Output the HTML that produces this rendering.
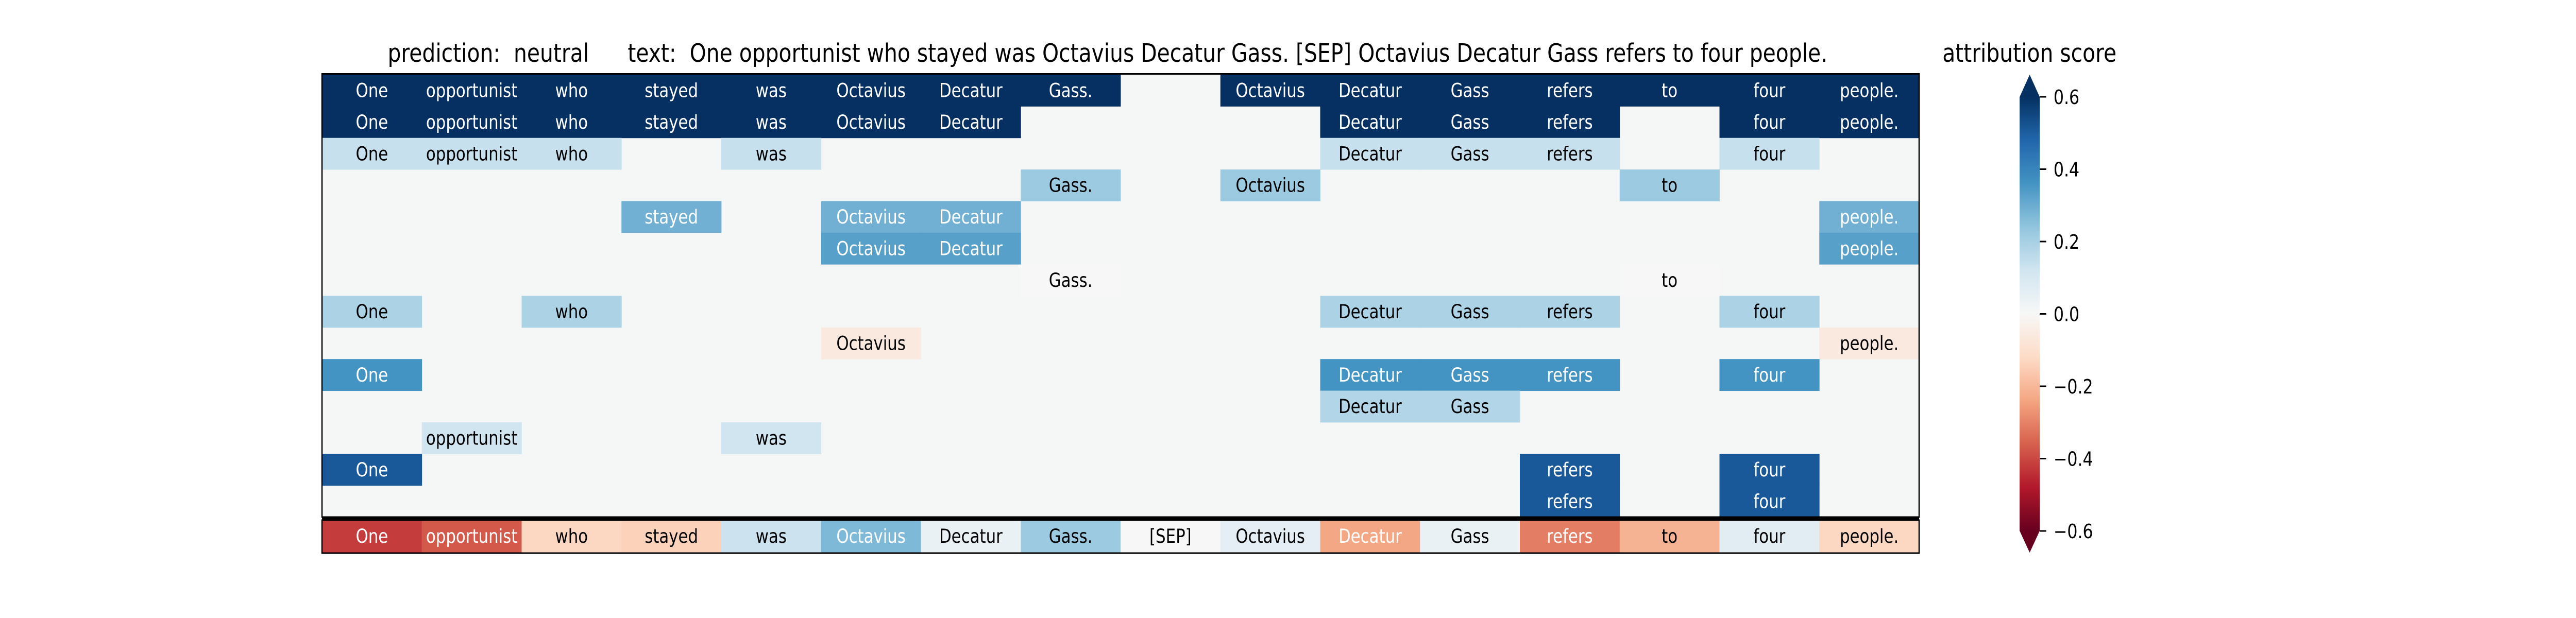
<!DOCTYPE html>
<html><head><meta charset="utf-8">
<style>
html,body{margin:0;padding:0;background:#fff;width:100%;height:100%;overflow:hidden;}
svg{display:block;width:100vw;height:100vh;font-family:"DejaVu Sans","Liberation Sans",sans-serif;}
</style></head>
<body>
<svg id="chart" viewBox="0 0 6000 1200" preserveAspectRatio="none" xmlns="http://www.w3.org/2000/svg">
<rect x="0" y="0" width="6000" height="1200" fill="#fff"/>
<text x="903" y="120" font-size="49" xml:space="preserve">prediction:  neutral</text>
<text x="1462" y="120" font-size="49" xml:space="preserve">text:  One opportunist who stayed was Octavius Decatur Gass. [SEP] Octavius Decatur Gass refers to four people.</text>
<text x="4727" y="120" font-size="49" text-anchor="middle">attribution score</text>
<g id="cells"></g>
<g id="cbar"></g>
</svg>
<script>
const tokens = ["One","opportunist","who","stayed","was","Octavius","Decatur","Gass.","[SEP]","Octavius","Decatur","Gass","refers","to","four","people."];
const N = null;
const row1  = [0.65,0.65,0.65,0.65,0.65,0.65,0.65,0.65,N,0.65,0.65,0.65,0.65,0.65,0.65,0.65];
const row2  = [0.65,0.65,0.65,0.65,0.65,0.65,0.65,N,N,N,0.65,0.65,0.65,N,0.65,0.65];
const row3  = [0.14,0.14,0.14,N,0.14,N,N,N,N,N,0.14,0.14,0.14,N,0.14,N];
const row4  = [N,N,N,N,N,N,N,0.22,N,0.22,N,N,N,0.22,N,N];
const row5  = [N,N,N,0.29,N,0.29,0.29,N,N,N,N,N,N,N,N,0.29];
const row6  = [N,N,N,N,N,0.33,0.33,N,N,N,N,N,N,N,N,0.33];
const row7  = [N,N,N,N,N,N,N,0.0,N,N,N,N,N,0.0,N,N];
const row8  = [0.19,N,0.19,N,N,N,N,N,N,N,0.19,0.19,0.19,N,0.19,N];
const row9  = [N,N,N,N,N,-0.06,N,N,N,N,N,N,N,N,N,-0.06];
const row10 = [0.36,N,N,N,N,N,N,N,N,N,0.36,0.36,0.36,N,0.36,N];
const row11 = [N,N,N,N,N,N,N,N,N,N,0.18,0.18,N,N,N,N];
const row12 = [N,0.12,N,N,0.12,N,N,N,N,N,N,N,N,N,N,N];
const row13 = [0.51,N,N,N,N,N,N,N,N,N,N,N,0.51,N,0.51,N];
const row14 = [N,N,N,N,N,N,N,N,N,N,N,N,0.51,N,0.51,N];
const totalRow = [-0.42,-0.37,-0.13,-0.14,0.13,0.27,0.04,0.22,0.0,0.06,-0.235,0.04,-0.31,-0.21,0.07,-0.13];
const cbTicks = [0.6,0.4,0.2,0.0,-0.2,-0.4,-0.6];
const cbTickLabels = ["0.6","0.4","0.2","0.0","\u22120.2","\u22120.4","\u22120.6"];

const rows = [row1,row2,row3,row4,row5,row6,row7,row8,row9,row10,row11,row12,row13,row14];
const VMIN=-0.6, VMAX=0.6;
const stops=["#67001f","#b2182b","#d6604d","#f4a582","#fddbc7","#f7f7f7","#d1e5f0","#92c5de","#4393c3","#2166ac","#053061"];
function hex(h){return [parseInt(h.substr(1,2),16),parseInt(h.substr(3,2),16),parseInt(h.substr(5,2),16)];}
function cmap(v){
  let t=(v-VMIN)/(VMAX-VMIN); t=Math.max(0,Math.min(1,t));
  const p=t*10, i=Math.min(9,Math.floor(p)), f=p-i;
  const a=hex(stops[i]), b=hex(stops[i+1]);
  return "rgb("+a.map((c,k)=>Math.round(c+(b[k]-c)*f)).join(",")+")";
}
const X0=750, X1=4470, TOP=145, ROWS_BOTTOM=1004, TR_TOP=1010, TR_BOTTOM=1072;
const cw=(X1-X0)/tokens.length, rh=(ROWS_BOTTOM-TOP)/rows.length;
function xPos(i){return X0+i*cw;}
function yPos(r){return TOP+r*rh;}
const NS="http://www.w3.org/2000/svg";
const g=document.getElementById("cells");
function mk(tag,attrs,parent){const e=document.createElementNS(NS,tag);for(const k in attrs)e.setAttribute(k,attrs[k]);parent.appendChild(e);return e;}

mk("rect",{x:X0,y:TOP,width:X1-X0,height:ROWS_BOTTOM-TOP,fill:"#f5f7f6"},g);
function drawCell(v,i,y,h,rowName){
  if(v===null) return;
  const r=mk("rect",{x:xPos(i),y:y,width:cw+0.5,height:h+0.5,fill:cmap(v)},g);
  
  
  const t=mk("text",{x:xPos(i)+cw/2,y:y+h/2+13,"font-size":37,"text-anchor":"middle",fill:Math.abs(v)>0.225?"#fff":"#000"},g);
  t.textContent=tokens[i];
  
  
}
rows.forEach((row,r)=>row.forEach((v,i)=>drawCell(v,i,yPos(r),rh,'row-'+(r+1))));
mk("rect",{x:X0,y:TR_TOP,width:X1-X0,height:TR_BOTTOM-TR_TOP,fill:"#f7f7f7"},g);
totalRow.forEach((v,i)=>drawCell(v,i,TR_TOP,TR_BOTTOM-TR_TOP,'total-row'));
let b;
b=mk("rect",{x:X0,y:TOP-1.5,width:X1-X0,height:ROWS_BOTTOM-TOP+1.5,fill:"none",stroke:"#000","stroke-width":3},g);


b=mk("rect",{x:X0,y:ROWS_BOTTOM,width:X1-X0,height:TR_TOP-ROWS_BOTTOM,fill:"#000"},g);


b=mk("rect",{x:X0,y:TR_TOP,width:X1-X0,height:TR_BOTTOM-TR_TOP+2,fill:"none",stroke:"#000","stroke-width":3},g);



const cb=document.getElementById("cbar");
const CBX0=4704, CBX1=4751, CBY_TOP=188, CBY_BOT=1031, TIP_TOP=145, TIP_BOT=1073;
function cbY(v){return CBY_TOP+(VMAX-v)/(VMAX-VMIN)*(CBY_BOT-CBY_TOP);}
const defs=mk("defs",{},cb);
const lg=mk("linearGradient",{id:"rdbu",x1:0,y1:0,x2:0,y2:1},defs);
for(let k=0;k<=40;k++){const v=VMAX-(VMAX-VMIN)*k/40;mk("stop",{offset:(k/40),"stop-color":cmap(v)},lg);}
const bar=mk("rect",{x:CBX0,y:cbY(VMAX),width:CBX1-CBX0,height:cbY(VMIN)-cbY(VMAX),fill:"url(#rdbu)"},cb);


const tu=mk("polygon",{points:CBX0+","+(cbY(VMAX)+0.5)+" "+(CBX0+CBX1)/2+","+TIP_TOP+" "+CBX1+","+(cbY(VMAX)+0.5),fill:cmap(VMAX+0.1)},cb);


const td=mk("polygon",{points:CBX0+","+(cbY(VMIN)-0.5)+" "+(CBX0+CBX1)/2+","+TIP_BOT+" "+CBX1+","+(cbY(VMIN)-0.5),fill:cmap(VMIN-0.1)},cb);


cbTicks.forEach((v,k)=>{
  const y=cbY(v);
  const l=mk("line",{x1:CBX1,x2:CBX1+15,y1:y,y2:y,stroke:"#000","stroke-width":3},cb);
  
  
  const t=mk("text",{x:4783,y:y+14,"font-size":38},cb);
  t.textContent=cbTickLabels[k];
  
  
});
</script>
</body></html>
